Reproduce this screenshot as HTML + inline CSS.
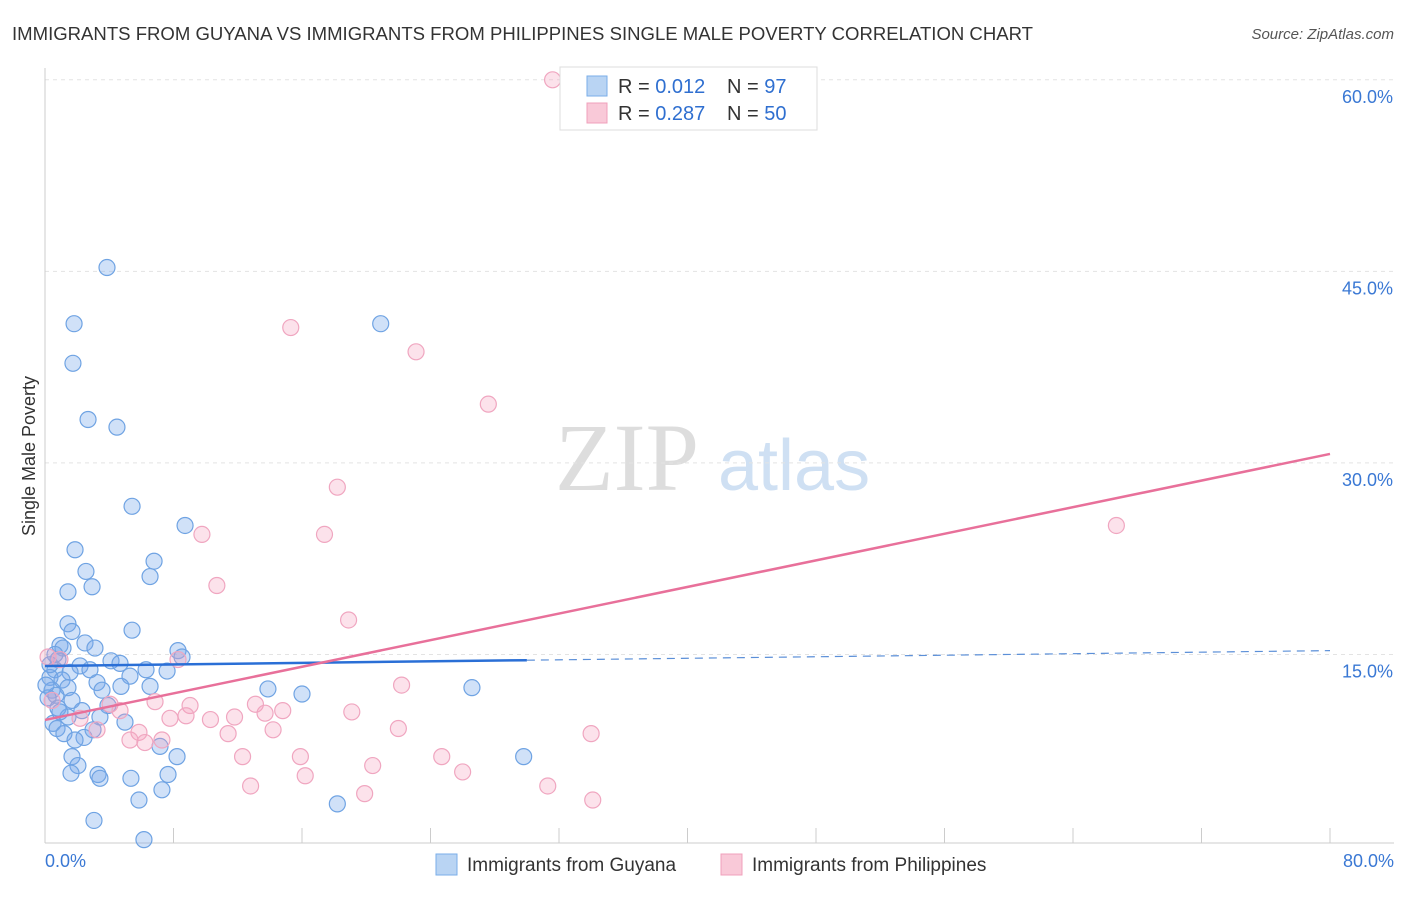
<!DOCTYPE html>
<html><head><meta charset="utf-8"><style>
body{margin:0;background:#fff;font-family:"Liberation Sans",sans-serif;}
#wrap{position:relative;width:1406px;height:892px;}
</style></head><body>
<div id="wrap">
<svg id="svg" width="1406" height="892" xmlns="http://www.w3.org/2000/svg">
<text x="12" y="40" font-size="18" fill="#333" textLength="1021" lengthAdjust="spacingAndGlyphs">IMMIGRANTS FROM GUYANA VS IMMIGRANTS FROM PHILIPPINES SINGLE MALE POVERTY CORRELATION CHART</text>
<text x="1394" y="39" font-size="15" fill="#555" font-style="italic" text-anchor="end">Source: ZipAtlas.com</text>
<text x="35" y="456" font-size="18" fill="#333" text-anchor="middle" transform="rotate(-90 35 456)">Single Male Poverty</text>
<text x="555" y="490" font-size="96" fill="#ddd" font-family="Liberation Serif,serif">ZIP</text>
<text x="718" y="490" font-size="72" fill="#cfe0f3">atlas</text>
<g id="grid"></g><g id="marks"></g>
<g>
<rect x="560" y="67" width="257" height="63" fill="#fff" stroke="#ddd"/>
<rect x="587" y="76" width="20" height="20" fill="#b9d4f3" stroke="#7aaee8"/>
<rect x="587" y="103" width="20" height="20" fill="#f9c9d8" stroke="#f0a0bb"/>
<text x="618" y="93" font-size="20" fill="#333">R = <tspan fill="#2f6fd0">0.012</tspan></text>
<text x="727" y="93" font-size="20" fill="#333">N = <tspan fill="#2f6fd0">97</tspan></text>
<text x="618" y="120" font-size="20" fill="#333">R = <tspan fill="#2f6fd0">0.287</tspan></text>
<text x="727" y="120" font-size="20" fill="#333">N = <tspan fill="#2f6fd0">50</tspan></text>
</g>
<g>
<rect x="436" y="854" width="21" height="21" fill="#b9d4f3" stroke="#7aaee8"/>
<text x="467" y="871" font-size="19" fill="#333">Immigrants from Guyana</text>
<rect x="721" y="854" width="21" height="21" fill="#f9c9d8" stroke="#f0a0bb"/>
<text x="752" y="871" font-size="19" fill="#333">Immigrants from Philippines</text>
</g>
</svg></div>
<script>
const yTicks=[15,30,45,60];
const yTickLabels=["15.0%","30.0%","45.0%","60.0%"];
const xTicks=[0,8,16,24,32,40,48,56,64,72,80];
const xEndLabels=["0.0%","80.0%"];
const guyanaX=[3.86,1.81,1.74,2.68,4.48,5.42,8.72,1.87,6.79,2.55,6.54,2.93,1.43,5.42,1.43,1.68,0.93,1.12,2.49,3.11,8.28,8.53,4.11,4.67,0.81,2.18,2.80,6.29,7.60,5.29,0.62,1.56,0.31,1.06,3.24,4.73,6.54,13.88,26.58,0.44,1.43,3.55,16.0,0.68,0.19,1.68,3.92,2.30,0.81,3.42,1.43,4.98,0.50,0.75,2.99,1.18,2.43,1.87,7.16,8.22,1.68,2.05,29.8,1.62,3.30,3.42,5.35,7.66,7.28,5.85,18.2,3.05,6.16,20.9,0.31,0.06,0.93,0.62];
const guyanaY=[45.3,40.9,37.8,33.4,32.8,26.6,25.1,23.2,22.3,21.5,21.1,20.3,19.9,16.9,17.4,16.8,15.7,15.5,15.9,15.5,15.3,14.8,14.5,14.3,14.6,14.1,13.8,13.8,13.7,13.3,13.8,13.6,13.2,13.0,12.8,12.5,12.5,12.3,12.4,12.2,12.4,12.2,11.9,11.8,11.6,11.4,11.0,10.6,10.8,10.1,10.1,9.7,9.6,9.2,9.1,8.8,8.5,8.3,7.8,7.0,7.0,6.3,7.0,5.7,5.6,5.3,5.3,5.6,4.4,3.6,3.3,2.0,0.5,40.9,14.2,12.6,10.5,15.0];
const philX=[31.6,15.3,23.1,27.6,18.2,66.7,9.77,17.4,10.7,18.9,8.28,22.2,0.19,0.93,6.85,4.05,9.03,13.1,14.8,4.67,19.1,7.78,8.78,10.3,11.8,13.7,22.0,11.4,14.2,3.24,5.85,34.0,5.29,7.28,6.22,12.3,15.9,24.7,20.4,16.2,26.0,12.8,19.9,31.3,34.1,0.44,2.18];
const philY=[60.0,40.6,38.7,34.6,28.1,25.1,24.4,24.4,20.4,17.7,14.6,12.6,14.8,14.6,11.3,11.1,11.0,11.1,10.6,10.6,10.5,10.0,10.2,9.9,10.1,10.4,9.2,8.8,9.1,9.1,8.9,8.8,8.3,8.3,8.1,7.0,7.0,7.0,6.3,5.5,5.8,4.7,4.1,4.7,3.6,11.4,10.0];
const guyanaTrend=[14.1,15.3];
const philTrend=[9.87,30.7];
const guyanaSolidEnd=30;
const NS="http://www.w3.org/2000/svg";
const X=v=>45+v/80*1285, Y=v=>846-v*12.77;
function mk(tag,attrs,parent){const e=document.createElementNS(NS,tag);for(const k in attrs)e.setAttribute(k,attrs[k]);parent.appendChild(e);return e;}
const grid=document.getElementById('grid'), marks=document.getElementById('marks');
yTicks.forEach((t,i)=>{
 const l=mk('line',{x1:45,x2:1394,y1:Y(t),y2:Y(t),stroke:'#e3e3e3','stroke-dasharray':'4,4'},grid);
 
 
 const tx=mk('text',{x:1393,y:Y(t)+23,'font-size':18,fill:'#3a78d4','text-anchor':'end'},grid);
 tx.textContent=yTickLabels[i];
 
 
});
const ax=mk('line',{x1:45,x2:1394,y1:843,y2:843,stroke:'#ccc'},grid);


const ay=mk('line',{x1:45,x2:45,y1:68,y2:843,stroke:'#ccc'},grid);


xTicks.forEach(t=>{const l=mk('line',{x1:X(t),x2:X(t),y1:828,y2:843,stroke:'#ccc'},grid);
 
 });
[[0,'start',45],[1,'end',1394]].forEach(([i,a,x])=>{const t=mk('text',{x:x,y:867,'font-size':18,fill:'#3a78d4','text-anchor':a},grid);t.textContent=xEndLabels[i];
 
 });
guyanaX.forEach((v,i)=>{const c=mk('circle',{cx:X(v),cy:Y(guyanaY[i]),r:8,fill:'rgba(120,170,235,0.35)',stroke:'#6fa3e3','stroke-width':1.2},marks);
 
 });
philX.forEach((v,i)=>{const c=mk('circle',{cx:X(v),cy:Y(philY[i]),r:8,fill:'rgba(245,160,190,0.3)',stroke:'#f0a6c0','stroke-width':1.2},marks);
 
 });
const gy=x=>guyanaTrend[0]+(guyanaTrend[1]-guyanaTrend[0])*x/80;
const l1=mk('line',{x1:X(0),y1:Y(gy(0)),x2:X(guyanaSolidEnd),y2:Y(gy(guyanaSolidEnd)),stroke:'#2a6fd6','stroke-width':2.5},marks);


const l2=mk('line',{x1:X(guyanaSolidEnd),y1:Y(gy(guyanaSolidEnd)),x2:X(80),y2:Y(gy(80)),stroke:'#5b8fd8','stroke-width':1.2,'stroke-dasharray':'8,6'},marks);


const l3=mk('line',{x1:X(0),y1:Y(philTrend[0]),x2:X(80),y2:Y(philTrend[1]),stroke:'#e8709a','stroke-width':2.5},marks);


</script>
</body></html>
